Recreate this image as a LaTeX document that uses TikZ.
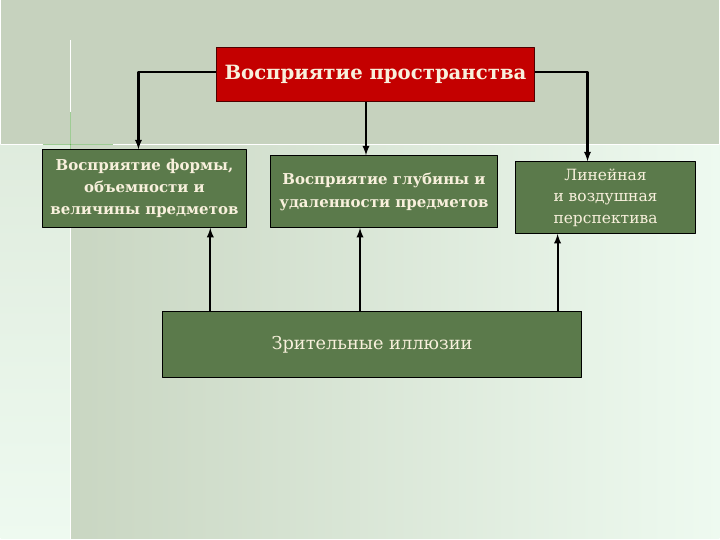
\documentclass[tikz,border=0pt]{standalone}
\usepackage{fontspec}
\setmainfont{DejaVu Serif}
\usetikzlibrary{positioning}
\definecolor{topbg}{HTML}{C6D2BE}
\definecolor{lowbg}{HTML}{C9D6C2}
\definecolor{lightbg}{HTML}{EEFAF0}
\definecolor{boxgreen}{HTML}{5B7A4B}
\definecolor{boxred}{HTML}{C40000}
\definecolor{cream}{HTML}{F8F0DC}
\definecolor{glow}{HTML}{3F9A2A}
\tikzset{
  greenbox/.style={draw=black,line width=0.8pt,fill=boxgreen,text=cream,align=center,inner sep=0pt},
  redbox/.style={draw=black!60!boxred,line width=1pt,fill=boxred,text=cream,inner sep=0pt},
  link/.style={black,line width=2.2pt,->},
}
\begin{document}
\begin{tikzpicture}[x=1pt,y=-1pt,>=latex,line join=bevel,]
%% background of the slide
  \fill [topbg] (0,0) rectangle (720,145);
  \shade [left color=lowbg,right color=lightbg] (70,145) rectangle (720,540);
  \shade [top color=lowbg!40!lightbg,bottom color=lightbg] (0,145) rectangle (70,540);
  \draw [white,line width=1.5pt] (0,145) -- (720,145);
  \draw [white,line width=1.5pt] (70,40) -- (70,540);
  \draw [glow,opacity=0.5,line width=1.5pt] (70,112) -- (70,152);
  \draw [glow,opacity=0.5,line width=1.5pt] (42,145) -- (112,145);
%%
  \node (node_0) at (375.5,75) [redbox,minimum width=319,minimum height=54,font=\fontsize{19.7}{22}\selectfont\bfseries] {Восприятие пространства};

  \node (node_1) at (144,189) [greenbox,minimum width=204,minimum height=78,font=\fontsize{15}{22}\selectfont\bfseries] {Восприятие формы,\\ объемности и\\ величины предметов};

  \node (node_2) at (384,192) [greenbox,minimum width=228,minimum height=72,font=\fontsize{15}{23}\selectfont\bfseries] {Восприятие глубины и\\ удаленности предметов};

  \node (node_3) at (606,198) [greenbox,minimum width=180,minimum height=72,font=\fontsize{15.5}{21.5}\selectfont] {Линейная\\ и воздушная\\ перспектива};

  \node (node_4) at (372,345) [greenbox,minimum width=420,minimum height=66,font=\fontsize{17.8}{20}\selectfont] {Зрительные иллюзии};

  \draw [link] ([yshift=3]node_0.west) -| ([xshift=-6]node_1.north);
  \draw [link] ([xshift=-9.5]node_0.south) -- ([xshift=-18]node_2.north);
  \draw [link] ([yshift=3]node_0.east) -| ([xshift=-18]node_3.north);
  \draw [link] ([xshift=66]node_1.south |- node_4.north) -- ([xshift=66]node_1.south);
  \draw [link] ([xshift=-24]node_2.south |- node_4.north) -- ([xshift=-24]node_2.south);
  \draw [link] ([xshift=-48]node_3.south |- node_4.north) -- ([xshift=-48]node_3.south);
%
\end{tikzpicture}
\end{document}
